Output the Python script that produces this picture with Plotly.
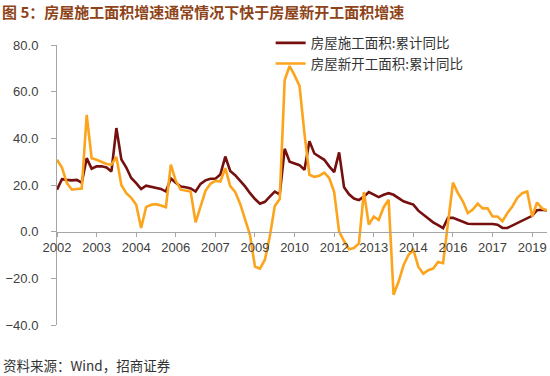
import plotly.graph_objects as go

# ---- data ----
construction_yoy = [
    18.0, 22.5, 22.2, 22.0, 22.2, 21.0, 31.5, 27.0, 28.0, 28.0,
    27.5, 25.8, 44.4, 31.0, 27.5, 23.0, 20.8, 18.3, 19.7, 19.2,
    18.8, 18.3, 17.2, 22.8, 21.0, 19.3, 19.0, 18.5, 17.2, 20.5,
    22.0, 22.7, 22.7, 24.5, 32.2, 26.0, 24.2, 21.8, 19.4, 16.5,
    14.0, 12.0, 12.8, 15.0, 17.2, 16.0, 35.5, 30.0, 29.2, 28.5,
    26.5, 38.8, 33.5, 32.2, 30.8, 28.0, 25.5, 34.0, 19.0, 16.0,
    14.2, 13.5, 15.0, 17.0, 15.8, 14.8, 15.8, 16.5, 15.8, 14.5,
    13.0, 12.3, 11.6, 9.0, 7.3, 5.5, 4.0, 2.8, 1.5, 5.9,
    5.9, 5.1, 4.4, 3.4, 3.3, 3.3, 3.4, 3.3, 3.3, 3.0,
    1.6, 1.6, 2.6, 3.5, 4.5, 5.5, 6.8, 9.2, 9.4, 9.1,
]
new_start_yoy = [
    30.8, 27.5, 20.8, 18.0, 18.3, 18.5, 50.0, 31.5, 30.8, 30.0,
    29.0, 28.7, 32.0, 20.0, 16.5, 14.5, 11.5, 1.6, 10.5, 11.5,
    11.8, 11.2, 10.5, 28.7, 21.8, 18.0, 17.5, 17.2, 4.0, 10.8,
    17.5, 20.5, 21.8, 21.5, 27.2, 19.5, 17.0, 12.0, 5.5, -1.5,
    -15.0, -15.8, -12.0, -2.0, 11.0, 14.0, 65.0, 71.0, 67.0, 62.5,
    42.0, 24.4, 23.5, 24.0, 25.3, 23.0, 17.0, 0.0, -4.0, -7.5,
    -7.0, -5.0, 17.0, 3.0, 6.5, 5.0, 10.5, 13.7, -27.0, -21.5,
    -14.5, -10.0, -7.8, -15.0, -18.0, -16.5, -15.8, -13.0, -13.5, 3.0,
    21.0, 16.5, 13.0, 8.0, 9.5, 12.0, 10.0, 10.0, 6.5, 6.5,
    4.5, 8.0, 10.8, 14.5, 16.5, 17.2, 6.5, 12.5, 10.0, 9.0,
]
tick_labels = ["2002", "2003", "2004", "2006", "2007", "2009", "2010",
               "2012", "2013", "2014", "2016", "2017", "2019"]
tick_step = 8
series_names = ["房屋施工面积:累计同比", "房屋新开工面积:累计同比"]

x_index = list(range(len(construction_yoy)))
tick_positions = [k * tick_step for k in range(len(tick_labels))]

fig = go.Figure()
fig.add_trace(go.Scatter(x=x_index, y=construction_yoy, mode="lines",
                         name=series_names[0],
                         line=dict(color="#75100F", width=2.6)))
fig.add_trace(go.Scatter(x=x_index, y=new_start_yoy, mode="lines",
                         name=series_names[1],
                         line=dict(color="#FBA41C", width=2.6)))

axis_font = dict(family="Liberation Sans, Arial, sans-serif", size=13, color="#404040")

fig.update_layout(
    width=550, height=376,
    margin=dict(l=57, r=3, t=45, b=51, autoexpand=False),
    paper_bgcolor="white", plot_bgcolor="white",
    showlegend=True,
    legend=dict(x=0.436, y=1.062, xanchor="left", yanchor="top",
                bgcolor="rgba(0,0,0,0)",
                font=dict(family="Noto Sans CJK SC, sans-serif", size=13.5, color="#333333")),
    xaxis=dict(range=[0, len(construction_yoy) - 1],
               tickmode="array", tickvals=tick_positions, ticktext=tick_labels,
               showgrid=False, zeroline=False,
               showline=True, linecolor="#A6A6A6", linewidth=1,
               ticks="outside", ticklen=4, tickcolor="#A6A6A6",
               tickfont=axis_font, automargin=False,
               anchor="free", position=40 / 120),
    yaxis=dict(range=[-40, 80], tickvals=[-40, -20, 0, 20, 40, 60, 80],
               tickformat=".1f",
               showgrid=False, zeroline=False,
               showline=True, linecolor="#A6A6A6", linewidth=1,
               ticks="outside", ticklen=5, tickcolor="#A6A6A6",
               ticklabelstandoff=10, automargin=False,
               tickfont=axis_font),
    annotations=[
        dict(text="图 5：房屋施工面积增速通常情况下快于房屋新开工面积增速",
             xref="paper", yref="paper", x=-57 / 490, y=1 + 33 / 280,
             xanchor="left", yanchor="middle", showarrow=False,
             font=dict(family="Noto Sans CJK SC, sans-serif", size=15, color="#8E4418",
                       weight="bold")),
        dict(text="资料来源：Wind，招商证券",
             xref="paper", yref="paper", x=-56 / 490, y=-40 / 280,
             xanchor="left", yanchor="middle", showarrow=False,
             font=dict(family="Noto Sans CJK SC, sans-serif", size=13.5, color="#333333")),
    ],
)

fig.write_html("out.html", config={"displayModeBar": False},
               post_script="document.body.style.margin='0';")
